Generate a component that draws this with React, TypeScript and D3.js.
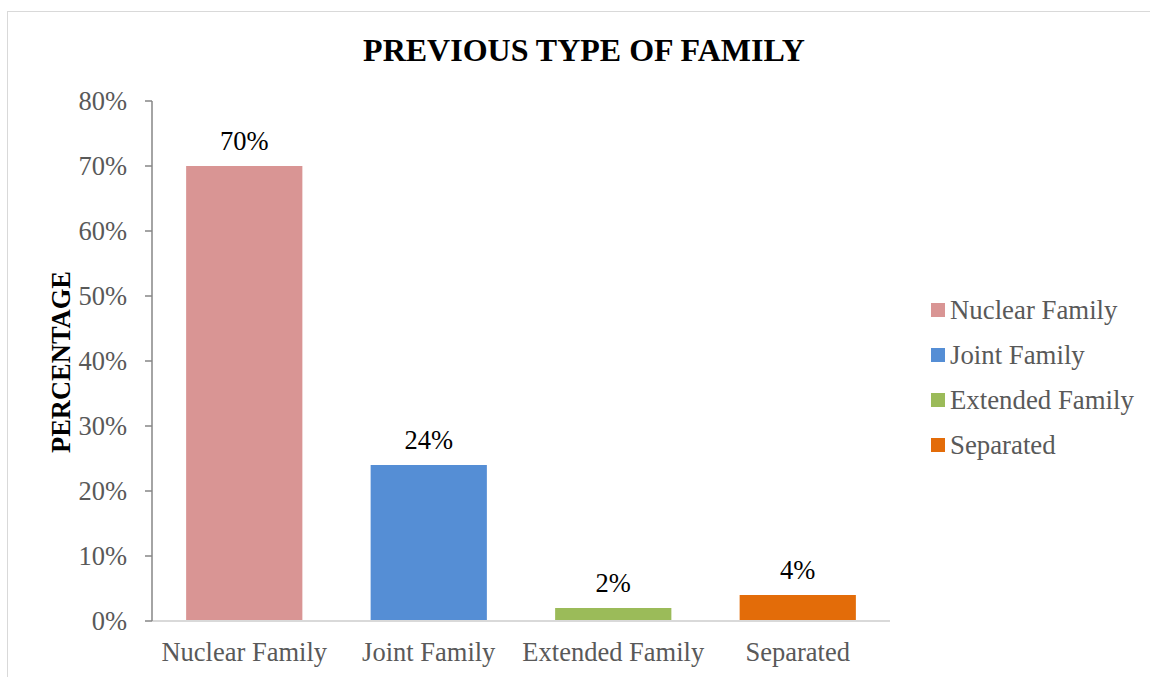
import React from "react";
import * as d3 from "d3";

const categories = ["Nuclear Family", "Joint Family", "Extended Family", "Separated"];
const values = [70, 24, 2, 4];
const colors = ["#D99594", "#558ED5", "#9BBB59", "#E36C09"];
const yTicks = [0, 10, 20, 30, 40, 50, 60, 70, 80];
const title = "PREVIOUS TYPE OF FAMILY";
const yTitle = "PERCENTAGE";

export default function App() {
  const W = 1150, H = 677;
  const left = 152, right = 890, top = 101, bottom = 621;
  const x = d3.scaleBand<string>().domain(categories).range([left, right]).paddingInner(0.37).paddingOuter(0.185);
  const y = d3.scaleLinear().domain([0, 80]).range([bottom, top]);
  const font = "'Liberation Serif', 'Times New Roman', serif";
  return (
    <svg width={W} height={H} style={{ position: "absolute", left: 0, top: 0 }} fontFamily={font}>
      <rect x={0} y={0} width={W} height={H} fill="#fff" />
      <rect x={7.5} y={11.5} width={1160} height={700} fill="none" stroke="#D9D9D9" strokeWidth={1} />
      <text x={584} y={61} textAnchor="middle" fontSize={32} fontWeight="bold" fill="#000">{title}</text>
      <text transform={`translate(70,${362}) rotate(-90)`} textAnchor="middle" fontSize={26.5} fontWeight="bold" fill="#000">{yTitle}</text>
      {categories.map((c, i) => (
        <rect key={c} x={x(c)} y={y(values[i])} width={x.bandwidth()} height={bottom - y(values[i])} fill={colors[i]} />
      ))}
      <line x1={left} x2={right} y1={bottom} y2={bottom} stroke="#D9D9D9" strokeWidth={2} />
      <line x1={left} x2={left} y1={top} y2={bottom} stroke="#868686" strokeWidth={1.5} />
      {yTicks.map(t => (
        <g key={t}>
          <line x1={left - 7} x2={left} y1={y(t)} y2={y(t)} stroke="#868686" strokeWidth={1.5} />
          <text x={127} y={y(t) + 9} textAnchor="end" fontSize={26.5} fill="#595959">{t}%</text>
        </g>
      ))}
      {categories.map((c, i) => (
        <text key={c} x={(x(c) as number) + x.bandwidth() / 2} y={y(values[i]) - 16} textAnchor="middle" fontSize={26.5} fill="#000">{values[i]}%</text>
      ))}
      {categories.map(c => (
        <text key={c} x={(x(c) as number) + x.bandwidth() / 2} y={661} textAnchor="middle" fontSize={26.5} fill="#595959">{c}</text>
      ))}
      {categories.map((c, i) => (
        <g key={c}>
          <rect x={931} y={303 + i * 45} width={14} height={14} fill={colors[i]} />
          <text x={950} y={319 + i * 45} fontSize={26.8} fill="#595959">{c}</text>
        </g>
      ))}
    </svg>
  );
}
